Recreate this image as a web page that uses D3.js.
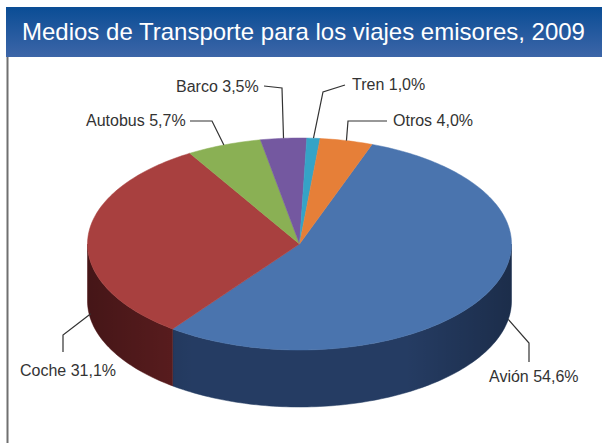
<!DOCTYPE html>
<html>
<head>
<meta charset="utf-8">
<script src="https://cdn.jsdelivr.net/npm/d3@7"></script>
<style>
  html, body { margin: 0; padding: 0; background: #fff; }
  svg { display: block; }
  text { font-family: "Liberation Sans", Arial, sans-serif; }
</style>
</head>
<body>
<div id="chart"></div>
<script>
// data
var categories = ["Avión", "Coche", "Autobus", "Barco", "Tren", "Otros"];
var shares = [54.6, 31.1, 5.7, 3.5, 1.0, 4.0];
var topColors = ["#4a74ae", "#a8403f", "#8ab054", "#7458a0", "#35a3c6", "#e67f38"];
var sideColors = ["#253c63", "#5c1d1f", "#55702e", "#45325f", "#1f6479", "#8f4b1d"];
var title = "Medios de Transporte para los viajes emisores, 2009";

// label layout: text position + elbow points, anchor on pie given as angle (deg) and depth fraction
var labelLayout = [
    { tx: 489, ty: 382, pts: [[529, 362], [529, 343]], ang: 100, depth: 1 },
    { tx: 20, ty: 376, pts: [[63, 352], [63, 335]], ang: 260, depth: 0.9 },
    { tx: 86, ty: 126, pts: [[190, 121], [212, 121]], ang: null, depth: 0 },
    { tx: 176, ty: 92, pts: [[264, 86], [282, 88]], ang: null, depth: 0 },
    { tx: 352, ty: 90, pts: [[345, 85], [323, 92]], ang: null, depth: 0 },
    { tx: 393, ty: 126, pts: [[387, 121], [348, 121]], ang: null, depth: 0 }
];

var width = 602,
    height = 443;

var cx = 299.5, cy = 244, rx = 212, ry = 106, depth = 57;
var startDeg = 20;

var svg = d3.select("#chart").append("svg")
    .attr("width", width)
    .attr("height", height);

var defs = svg.append("defs");
var grad = defs.append("linearGradient")
    .attr("id", "titleGrad")
    .attr("x1", 0).attr("y1", 0).attr("x2", 0).attr("y2", 1);
grad.append("stop").attr("offset", "0%").attr("stop-color", "#0a4d95");
grad.append("stop").attr("offset", "100%").attr("stop-color", "#3d66a8");

var sideShade = defs.append("linearGradient")
    .attr("id", "sideShade")
    .attr("gradientUnits", "userSpaceOnUse")
    .attr("x1", cx - rx).attr("y1", 0).attr("x2", cx + rx).attr("y2", 0);
sideShade.append("stop").attr("offset", "0%").attr("stop-color", "#000").attr("stop-opacity", 0.25);
sideShade.append("stop").attr("offset", "25%").attr("stop-color", "#000").attr("stop-opacity", 0);
sideShade.append("stop").attr("offset", "75%").attr("stop-color", "#000").attr("stop-opacity", 0);
sideShade.append("stop").attr("offset", "100%").attr("stop-color", "#000").attr("stop-opacity", 0.25);

// title bar
svg.append("rect")
    .attr("x", 6).attr("y", 7)
    .attr("width", width - 6).attr("height", 50)
    .attr("fill", "url(#titleGrad)");

svg.append("text")
    .attr("x", 22).attr("y", 40)
    .attr("fill", "#fff")
    .attr("font-size", 24)
    .text(title);

// left frame line
svg.append("line")
    .attr("x1", 7.5).attr("x2", 7.5)
    .attr("y1", 57).attr("y2", height)
    .attr("stroke", "#707070")
    .attr("stroke-width", 2);

var pie = d3.pie()
    .sort(null)
    .value(function(d) { return d; })
    .startAngle(startDeg * Math.PI / 180)
    .endAngle(startDeg * Math.PI / 180 + 2 * Math.PI);

var arcs = pie(shares);

function pt(a, dy) {
    return [cx + rx * Math.sin(a), cy - ry * Math.cos(a) + (dy || 0)];
}

function sample(a0, a1, dy) {
    var n = Math.max(2, Math.ceil(Math.abs(a1 - a0) / 0.02));
    return d3.range(n + 1).map(function(i) { return pt(a0 + (a1 - a0) * i / n, dy); });
}

var line = d3.line();

// side walls (front half only)
var walls = [];
arcs.forEach(function(d, i) {
    [0, 1].forEach(function(k) {
        var lo = Math.max(d.startAngle, Math.PI / 2 + 2 * Math.PI * k),
            hi = Math.min(d.endAngle, 3 * Math.PI / 2 + 2 * Math.PI * k);
        if (hi > lo) walls.push({ i: i, a0: lo, a1: hi });
    });
});

var wallPath = function(w) {
    var top = sample(w.a0, w.a1, 0),
        bottom = sample(w.a1, w.a0, depth);
    return line(top.concat(bottom)) + "Z";
};

svg.append("g").selectAll("path")
    .data(walls)
    .enter().append("path")
    .attr("d", wallPath)
    .attr("fill", function(w) { return sideColors[w.i]; })
    .attr("stroke", function(w) { return sideColors[w.i]; })
    .attr("stroke-width", 0.5);

svg.append("g").selectAll("path")
    .data(walls)
    .enter().append("path")
    .attr("d", wallPath)
    .attr("fill", "url(#sideShade)");

// top faces
svg.append("g").selectAll("path")
    .data(arcs)
    .enter().append("path")
    .attr("d", function(d) {
        return line([[cx, cy]].concat(sample(d.startAngle, d.endAngle, 0))) + "Z";
    })
    .attr("fill", function(d, i) { return topColors[i]; })
    .attr("stroke", function(d, i) { return topColors[i]; })
    .attr("stroke-width", 0.5);

// labels and leader lines
var fmt = d3.format(".1f");
var labels = svg.append("g");

arcs.forEach(function(d, i) {
    var L = labelLayout[i];
    var a = L.ang === null ? (d.startAngle + d.endAngle) / 2 : L.ang * Math.PI / 180;
    var anchor = pt(a, L.depth * depth);

    labels.append("path")
        .attr("d", line(L.pts.concat([anchor])))
        .attr("fill", "none")
        .attr("stroke", "#333")
        .attr("stroke-width", 1.2);

    labels.append("text")
        .attr("x", L.tx).attr("y", L.ty)
        .attr("fill", "#333")
        .attr("font-size", 16)
        .text(categories[i] + " " + fmt(shares[i]).replace(".", ",") + "%");
});
</script>
</body>
</html>
